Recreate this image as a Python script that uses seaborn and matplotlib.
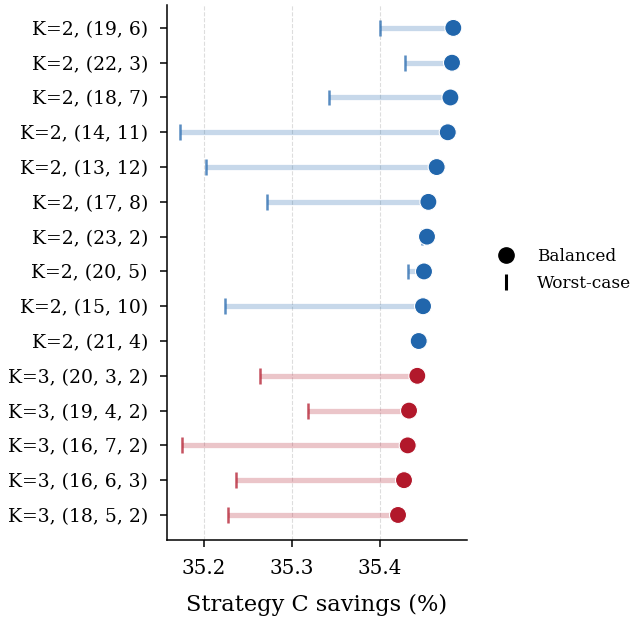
import matplotlib
matplotlib.use("Agg")
import matplotlib.pyplot as plt
import seaborn as sns
import pandas as pd
from matplotlib.lines import Line2D

labels = ["K=2, (19, 6)", "K=2, (22, 3)", "K=2, (18, 7)", "K=2, (14, 11)", "K=2, (13, 12)",
          "K=2, (17, 8)", "K=2, (23, 2)", "K=2, (20, 5)", "K=2, (15, 10)", "K=2, (21, 4)",
          "K=3, (20, 3, 2)", "K=3, (19, 4, 2)", "K=3, (16, 7, 2)", "K=3, (16, 6, 3)", "K=3, (18, 5, 2)"]
balanced = [35.4833, 35.4818, 35.4800, 35.4770, 35.4644, 35.4550, 35.4534, 35.4500, 35.4489, 35.4440,
            35.4424, 35.4330, 35.4315, 35.4273, 35.4205]
worst = [35.3997, 35.4280, 35.3417, 35.1727, 35.2020, 35.2712, 35.4480, 35.4320, 35.2239, 35.4430,
         35.2633, 35.3180, 35.1754, 35.2367, 35.2273]
group = ["K=2"] * 10 + ["K=3"] * 5

df = pd.DataFrame({"label": labels, "balanced": balanced, "worst": worst, "K": group})

dot_col = {"K=2": "#2166ac", "K=3": "#b2182b"}

plt.rcParams["font.family"] = ["DejaVu Serif"]
fig = plt.figure(figsize=(6.31, 6.19), dpi=100)
ax = fig.add_axes([0.264, 0.1276, 0.4756, 0.8644])

for i, r in df.iterrows():
    c = dot_col[r["K"]]
    ax.hlines(i, r["worst"], r["balanced"], color=c, alpha=0.25, lw=3.8, zorder=1)

sns.scatterplot(data=df, x="worst", y="label", hue="K", palette=dot_col, marker="|",
                s=130, linewidth=1.8, alpha=0.75, legend=False, ax=ax, zorder=2)
sns.scatterplot(data=df, x="balanced", y="label", hue="K", palette=dot_col, marker="o",
                s=150, edgecolor="white", linewidth=0.8, legend=False, ax=ax, zorder=3)

ax.set_ylim(14.72, -0.66)
ax.set_xlim(35.1576, 35.4985)
ax.set_xticks([35.2, 35.3, 35.4])
ax.set_xticklabels(["35.2", "35.3", "35.4"])
ax.xaxis.grid(True, linestyle="--", color="#dddddd", lw=0.8)
ax.set_axisbelow(True)
sns.despine(ax=ax)
for s in ("left", "bottom"):
    ax.spines[s].set_linewidth(1.1)
ax.set_ylabel("")
ax.set_xlabel("Strategy C savings (%)", fontsize=16.2, labelpad=11)
ax.tick_params(axis="x", labelsize=14.3, length=5, width=1.1, pad=9)
ax.tick_params(axis="y", labelsize=13.5, length=5.4, width=1.1, pad=8)

handles = [Line2D([], [], marker="o", color="black", linestyle="none", markersize=11),
           Line2D([], [], marker="|", color="black", linestyle="none", markersize=12, markeredgewidth=2.2)]
fig.legend(handles, ["Balanced", "Worst-case"], loc="center left", bbox_to_anchor=(0.751, 0.564),
           frameon=False, fontsize=12.2, handletextpad=0.8, labelspacing=0.55)

fig.savefig("out.png", dpi=100)
